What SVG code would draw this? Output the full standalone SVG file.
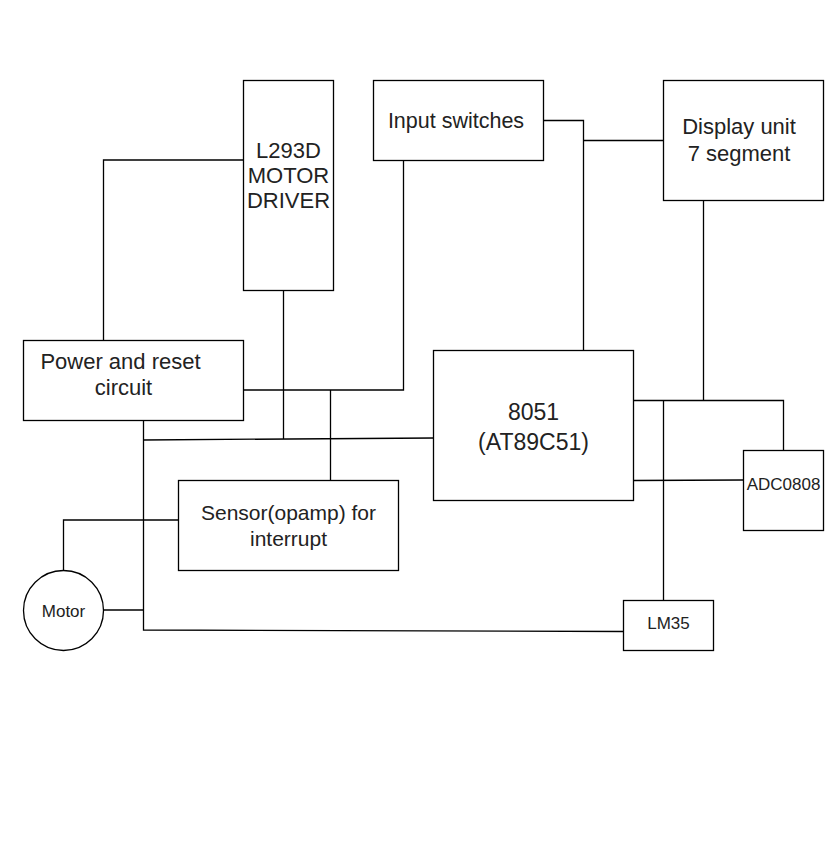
<svg xmlns="http://www.w3.org/2000/svg" width="833" height="847" viewBox="0 0 833 847">
<style>
.box{fill:#fff;stroke:#000;stroke-width:1.3}
.w{stroke:#000;stroke-width:1.3;fill:none}
text{font-family:"Liberation Sans",Arial,Helvetica,sans-serif;fill:#222;text-anchor:middle}
.l{font-size:22px}
.s{font-size:17px}
</style>
<rect width="833" height="847" fill="#fff"/>
<g id="connectors">
<polyline class="w" points="243.5,160 103.5,160 103.5,340.5"/>
<line class="w" x1="283.5" y1="290.5" x2="283.5" y2="439"/>
<polyline class="w" points="243.5,390 403.5,390 403.5,160.5"/>
<line class="w" x1="330.5" y1="390" x2="330.5" y2="480.5"/>
<polyline class="w" points="143.5,420.5 143.5,630 623.5,631.5"/>
<line class="w" x1="143.5" y1="440" x2="433.5" y2="438"/>
<polyline class="w" points="178.5,520 63.5,520 63.5,570"/>
<line class="w" x1="103.5" y1="610" x2="143.5" y2="610"/>
<polyline class="w" points="543.5,120.5 583.5,120.5 583.5,350.5"/>
<line class="w" x1="583.5" y1="140.5" x2="663.5" y2="140.5"/>
<line class="w" x1="703.5" y1="200.5" x2="703.5" y2="400.5"/>
<polyline class="w" points="633.5,400.5 783.5,400.5 783.5,450.5"/>
<line class="w" x1="663.5" y1="400.5" x2="663.5" y2="600.5"/>
<line class="w" x1="633.5" y1="480.5" x2="743.5" y2="480"/>
</g>
<g id="l293d">
<rect class="box" x="243.5" y="80.5" width="90" height="210"/>
<text class="l" x="288.5" y="158">L293D</text>
<text class="l" x="288.5" y="183">MOTOR</text>
<text class="l" x="288.5" y="208">DRIVER</text>
</g>
<g id="input-switches">
<rect class="box" x="373.5" y="80.5" width="170" height="80"/>
<text class="l" x="456" y="127.5" style="font-size:21.5px">Input switches</text>
</g>
<g id="display">
<rect class="box" x="663.5" y="80.5" width="160" height="120"/>
<text class="l" x="739" y="134">Display unit</text>
<text class="l" x="739" y="160.5">7 segment</text>
</g>
<g id="power-reset">
<rect class="box" x="23.5" y="340.5" width="220" height="80"/>
<text class="l" x="120.5" y="368.5">Power and reset</text>
<text class="l" x="123.5" y="395">circuit</text>
</g>
<g id="mcu">
<rect class="box" x="433.5" y="350.5" width="200" height="150"/>
<text class="l" x="533.5" y="419.5" style="font-size:23px">8051</text>
<text class="l" x="533.5" y="449.5" style="font-size:23px">(AT89C51)</text>
</g>
<g id="adc">
<rect class="box" x="743.5" y="450.5" width="80" height="80"/>
<text class="s" x="783.5" y="490">ADC0808</text>
</g>
<g id="lm35">
<rect class="box" x="623.5" y="600.5" width="90" height="50"/>
<text class="s" x="668.5" y="629">LM35</text>
</g>
<g id="sensor">
<rect class="box" x="178.5" y="480.5" width="220" height="90"/>
<text class="l" x="288.5" y="520" style="font-size:21px">Sensor(opamp) for</text>
<text class="l" x="288.5" y="546" style="font-size:21px">interrupt</text>
</g>
<g id="motor">
<circle class="box" cx="63.5" cy="610.5" r="40"/>
<text class="s" x="63.5" y="617">Motor</text>
</g>
</svg>
